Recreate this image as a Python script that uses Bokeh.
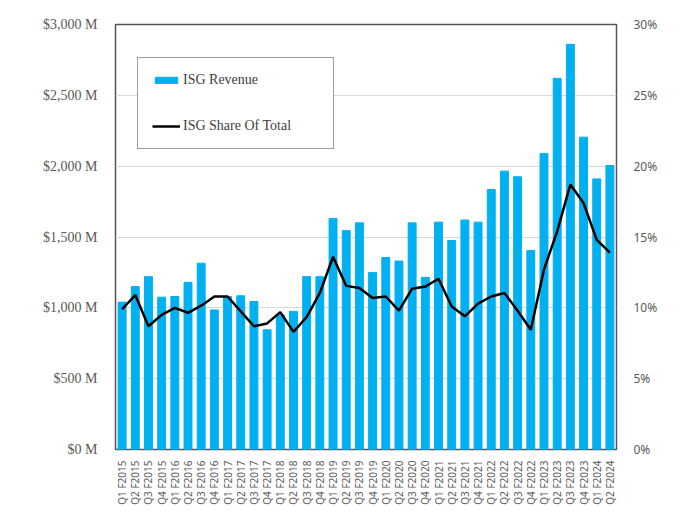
from bokeh.plotting import figure
from bokeh.models import (FactorRange, Range1d, LinearAxis, FixedTicker, CustomJSTickFormatter,
                          Legend, LegendItem, ColumnDataSource)
from bokeh.embed import file_html
from bokeh.resources import INLINE
import math

quarters = []
for fy in range(2015, 2025):
    for q in range(1, 5):
        if fy == 2024 and q > 2:
            break
        quarters.append(f"Q{q} F{fy}")

revenue = [1040, 1150, 1220, 1075, 1080, 1180, 1315, 985, 1080, 1085, 1045, 845,
           950, 975, 1220, 1220, 1630, 1545, 1600, 1250, 1355, 1330, 1600, 1215,
           1605, 1475, 1620, 1605, 1835, 1965, 1925, 1405, 2090, 2620, 2860, 2205,
           1910, 2005]
share = [9.9, 10.9, 8.7, 9.5, 10.0, 9.65, 10.15, 10.8, 10.8, 9.75, 8.7, 8.9,
         9.7, 8.3, 9.35, 11.05, 13.6, 11.55, 11.4, 10.7, 10.8, 9.8, 11.35, 11.5,
         12.05, 10.1, 9.4, 10.3, 10.8, 11.05, 9.8, 8.45, 12.7, 15.4, 18.7, 17.4,
         14.8, 13.9]
left_ticks = [0, 500, 1000, 1500, 2000, 2500, 3000]
right_ticks = [0, 5, 10, 15, 20, 25, 30]

src = ColumnDataSource(dict(q=quarters, rev=revenue, share=share))

W, H = 692, 507
p = figure(width=W, height=H, x_range=FactorRange(*quarters, range_padding=0),
           y_range=Range1d(0, 3000), output_backend="svg", toolbar_location=None,
           min_border_left=115, min_border_right=W - 616, min_border_top=24,
           min_border_bottom=H - 450)
p.extra_y_ranges = {"pct": Range1d(0, 30)}

bars = p.vbar(x="q", top="rev", width=0.6, source=src, color="#00B0F0")
line = p.line(x="q", y="share", source=src, y_range_name="pct", color="black", line_width=2.5)

grey = "#595959"
p.outline_line_color = "#555555"
p.outline_line_width = 1.5
p.xgrid.grid_line_color = None
p.ygrid.grid_line_color = "#d9d9d9"
p.ygrid.ticker = FixedTicker(ticks=left_ticks)

ya = p.yaxis[0]
ya.ticker = FixedTicker(ticks=left_ticks)
ya.formatter = CustomJSTickFormatter(code="return '$' + tick.toLocaleString('en-US') + ' M';")
ya.major_label_text_font = "Liberation Serif"
ya.major_label_text_font_size = "14px"
ya.major_label_text_color = grey
ya.axis_line_color = None
ya.major_tick_line_color = None
ya.minor_tick_line_color = None
ya.major_label_standoff = 12

ra = LinearAxis(y_range_name="pct", ticker=FixedTicker(ticks=right_ticks),
                formatter=CustomJSTickFormatter(code="return tick + '%';"))
ra.major_label_text_font = "Noto Sans"
ra.major_label_text_font_size = "12px"
ra.major_label_text_color = grey
ra.axis_line_color = None
ra.major_tick_line_color = None
ra.minor_tick_line_color = None
ra.major_label_standoff = 11
p.add_layout(ra, "right")

xa = p.xaxis[0]
xa.major_label_orientation = math.pi / 2
xa.major_label_text_font = "Noto Sans"
xa.major_label_text_font_size = "10px"
xa.major_label_text_color = grey
xa.axis_line_color = None
xa.major_tick_line_color = None
xa.minor_tick_line_color = None
xa.major_label_standoff = 5

legend = Legend(items=[LegendItem(label="ISG Revenue", renderers=[bars]),
                       LegendItem(label="ISG Share Of Total", renderers=[line])],
                location=(22, 300), padding=14, spacing=30, label_height=14,
                glyph_width=28, glyph_height=8, label_standoff=3, label_width=136,
                label_text_font="Liberation Serif", label_text_font_size="14px",
                label_text_color="#404040", border_line_color="#404040",
                border_line_width=1.5, background_fill_color="white", background_fill_alpha=1)
p.add_layout(legend)

open("out.html", "w").write(file_html(p, INLINE))
